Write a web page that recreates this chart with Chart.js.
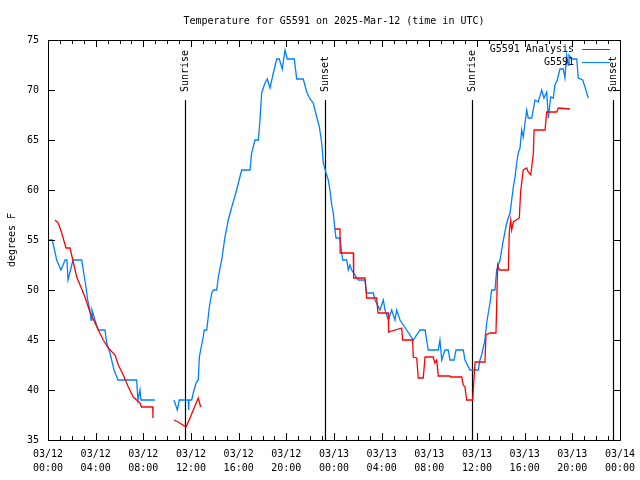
<!DOCTYPE html>
<html>
<head>
<meta charset="utf-8">
<script src="https://cdn.jsdelivr.net/npm/chart.js@4/dist/chart.umd.min.js"></script>
<style>
html,body{margin:0;padding:0;background:#fff;}
#wrap{width:640px;height:480px;}
</style>
</head>
<body>
<div id="wrap"><canvas id="c" width="640" height="480"></canvas></div>
<script>
// Hours since 2025-03-12 00:00 UTC; null separates gaps
const obsHours = [0.0,0.36,0.73,1.09,1.43,1.59,1.68,2.10,2.83,3.16,3.33,3.52,3.61,3.69,3.94,4.22,4.78,4.93,5.20,5.54,5.87,7.44,7.55,7.72,7.80,8.98,
  9.8,
  10.57,10.85,11.02,11.77,11.80,11.83,12.06,12.19,12.42,12.61,12.70,12.81,12.98,13.12,13.32,13.54,13.74,13.87,14.16,14.29,14.58,14.85,15.13,15.42,15.83,16.25,16.95,17.09,17.37,17.65,17.79,17.93,18.21,18.40,18.63,18.91,19.19,19.41,19.66,19.89,20.08,20.67,20.87,21.42,21.71,21.99,22.26,22.55,22.77,22.97,23.10,23.33,23.52,23.66,23.81,23.94,24.08,24.17,24.50,24.65,24.73,25.07,25.20,25.34,25.48,26.04,26.60,26.74,27.30,27.44,27.86,28.14,28.28,28.56,28.84,29.12,29.26,29.54,30.10,30.65,31.22,31.64,31.91,32.75,32.89,33.04,33.31,33.59,33.73,34.07,34.24,34.85,34.99,35.41,36.11,36.25,36.39,36.67,36.81,37.09,37.23,37.51,37.65,37.93,38.07,38.21,38.49,38.77,38.91,39.05,39.19,39.33,39.46,39.61,39.75,39.88,40.03,40.17,40.30,40.59,40.87,41.14,41.43,41.62,41.85,41.99,42.18,42.40,42.54,42.74,42.96,43.24,43.38,43.53,43.64,43.72,43.95,44.37,44.50,44.87,45.06,45.34];
const obsTemps = [55,55,53,52,53,53,51,53,53,50.5,49,48,47,48,47,46,46,44.7,43.7,42,41,41,39,40,39,39,
  null,
  39,38,39,39,38,39,39,39.7,40.7,41,43.3,44,45,46,46,48.3,49.7,50,50,51.3,53,55.3,57,58.3,60,62,62,63.7,65,65,67,69.7,70.7,71.1,70.2,71.7,73.1,73.1,72.1,74,73.1,73.1,71.1,71.1,69.8,69.1,68.7,67.3,66.3,64.7,62.7,61.7,61,60,58.5,57.7,56,55.2,55.2,53.7,53,53,52,52.5,52,51,51,49.7,49.7,49,48,49,48,47,48,47,48,47,46,45,46,46,44,44,45,43,44,44,43,43,44,44,43,42,42,43,43.5,45,46.7,48.7,50,50,52,53,54,55,56.7,57.7,59,60.3,61.3,62.7,63.7,64.2,66,65.3,66.7,68,67.2,67.2,69,68.8,70,69.2,69.8,67.2,69.3,69.2,70.5,71,72.1,72.1,71.2,73.5,72.5,73.5,73.1,73.1,71.2,71,70.3,69.2];

const anaHours = [0.59,0.86,1.15,1.51,1.85,2.12,2.41,2.69,3.10,3.52,4.22,4.64,5.06,5.62,5.90,6.32,6.74,7.16,7.72,7.86,8.79,8.81,
  9.7,
  10.57,10.93,11.58,11.92,12.19,12.61,12.81,
  18.0,
  24.08,24.50,24.52,25.62,25.65,26.60,26.74,27.58,27.69,28.56,28.58,29.68,29.76,30.60,30.65,30.94,31.07,31.49,31.64,32.33,32.47,32.62,32.75,33.73,33.79,34.72,34.85,34.99,35.13,35.64,35.75,35.84,36.67,36.75,37.09,37.59,37.65,37.73,37.87,38.63,38.71,38.83,38.91,39.05,39.55,39.66,39.88,40.17,40.30,40.51,40.73,40.79,41.71,41.85,42.69,42.83,43.81];
const anaTemps = [57,56.7,55.7,54.2,54.2,52.8,51.3,50.5,49.3,47.8,46,45,44.2,43.5,42.5,41.5,40.3,39.3,38.7,38.3,38.3,37.2,
  null,
  37,36.8,36.3,37.2,38,39.2,38.3,
  null,
  56.1,56.1,53.7,53.7,51.2,51.2,49.2,49.2,47.7,47.7,45.8,46.2,45,45,43.3,43.2,41.2,41.2,43.3,43.3,42.7,43,41.4,41.4,41.3,41.3,40.5,40.3,39,39,41.2,42.8,42.8,45.5,45.7,45.7,48.3,52.5,52,52,55.8,57,56,56.8,57.2,59.8,62,62.2,61.8,61.5,63.7,66,66,67.8,67.8,68.2,68.1];

const xTickLabels = [['03/12','00:00'],['03/12','04:00'],['03/12','08:00'],['03/12','12:00'],['03/12','16:00'],['03/12','20:00'],
  ['03/13','00:00'],['03/13','04:00'],['03/13','08:00'],['03/13','12:00'],['03/13','16:00'],['03/13','20:00'],['03/14','00:00']];
const sunHours = [11.5, 23.25, 35.57, 47.4];
const sunLabels = ['Sunrise','Sunset','Sunrise','Sunset'];
const seriesNames = ['G5591 Analysis','G5591'];
const seriesColors = ['#ff0000','#0080ff'];
const chartTitle = 'Temperature for G5591 on 2025-Mar-12 (time in UTC)';

function toPts(xs, ys){ return xs.map((x,i)=>({x:x, y:ys[i]})); }

const FONT = '"DejaVu Sans Mono", "Liberation Mono", monospace';

const decor = {
  id:'decor',
  beforeDatasetsDraw(chart){
    const ctx = chart.ctx, xs = chart.scales.x, a = chart.chartArea;
    ctx.save();
    ctx.strokeStyle = '#000'; ctx.lineWidth = 1.2;
    ctx.fillStyle = '#000';
    ctx.font = '10px ' + FONT;
    sunHours.forEach((h,i)=>{
      const px = Math.round(xs.getPixelForValue(h)) + 0.5;
      ctx.beginPath(); ctx.moveTo(px, a.top + 60); ctx.lineTo(px, a.bottom); ctx.stroke();
      ctx.save();
      ctx.translate(px, a.top + 52);
      ctx.rotate(-Math.PI/2);
      ctx.textAlign = 'left'; ctx.textBaseline = 'middle';
      ctx.fillText(sunLabels[i], 0, 0);
      ctx.restore();
    });
    ctx.restore();
  },
  afterDatasetsDraw(chart){
    const ctx = chart.ctx, xs = chart.scales.x, ys = chart.scales.y, a = chart.chartArea;
    ctx.save();
    ctx.strokeStyle = '#000'; ctx.lineWidth = 1;
    ctx.beginPath();
    ctx.rect(Math.round(a.left)+0.5, Math.round(a.top)+0.5, Math.round(a.right-a.left), Math.round(a.bottom-a.top));
    ctx.stroke();
    ctx.beginPath();
    for(let h=0; h<=48; h++){
      const px = Math.round(xs.getPixelForValue(h))+0.5;
      const len = (h%4===0)?7:4;
      ctx.moveTo(px, a.bottom); ctx.lineTo(px, a.bottom-len);
      ctx.moveTo(px, a.top); ctx.lineTo(px, a.top+len);
    }
    for(let v=35; v<=75; v+=5){
      const py = Math.round(ys.getPixelForValue(v))+0.5;
      ctx.moveTo(a.left, py); ctx.lineTo(a.left+7, py);
      ctx.moveTo(a.right, py); ctx.lineTo(a.right-7, py);
    }
    ctx.stroke();
    // title centred over the plot area
    ctx.font = '10px ' + FONT;
    ctx.fillStyle = '#000';
    ctx.textAlign = 'center'; ctx.textBaseline = 'middle';
    ctx.fillText(chartTitle, (a.left + a.right)/2, 21);
    // legend
    ctx.textAlign = 'right';
    seriesNames.forEach((n,i)=>{
      const y = a.top + 9 + i*13;
      ctx.fillStyle = '#000';
      ctx.fillText(n, a.right - 46, y);
      ctx.strokeStyle = seriesColors[i];
      ctx.beginPath(); ctx.moveTo(a.right-38, Math.round(y)+0.5); ctx.lineTo(a.right-10, Math.round(y)+0.5); ctx.stroke();
    });
    ctx.restore();
  }
};

new Chart(document.getElementById('c'), {
  type:'line',
  data:{
    datasets:[
      {label:seriesNames[0], data:toPts(anaHours, anaTemps), borderColor:seriesColors[0], borderWidth:1.3, pointRadius:0, tension:0, spanGaps:false},
      {label:seriesNames[1], data:toPts(obsHours, obsTemps), borderColor:seriesColors[1], borderWidth:1.3, pointRadius:0, tension:0, spanGaps:false}
    ]
  },
  options:{
    responsive:false, animation:false,
    layout:{padding:{top:40,right:20,bottom:0,left:0}},
    plugins:{
      legend:{display:false},
      tooltip:{enabled:false},
      title:{display:false}
    },
    scales:{
      x:{type:'linear', min:0, max:48,
        grid:{display:false, drawTicks:false}, border:{display:false},
        ticks:{stepSize:4, autoSkip:false, maxRotation:0, color:'#000', padding:7,
          font:{family:FONT, size:10, lineHeight:1.4},
          callback:(v)=> xTickLabels[Math.round(v/4)]},
        afterFit:(s)=>{ s.height = 40; s.paddingLeft = 0; s.paddingRight = 0; }
      },
      y:{min:35, max:75,
        grid:{display:false, drawTicks:false}, border:{display:false},
        ticks:{stepSize:5, color:'#000', padding:9, font:{family:FONT, size:10}},
        title:{display:true, text:'degrees F', color:'#000', font:{family:FONT, size:10}, padding:{top:6,bottom:0}},
        afterFit:(s)=>{ s.width = 48; s.paddingTop = 0; s.paddingBottom = 0; }
      }
    }
  },
  plugins:[decor]
});
</script>
</body>
</html>
